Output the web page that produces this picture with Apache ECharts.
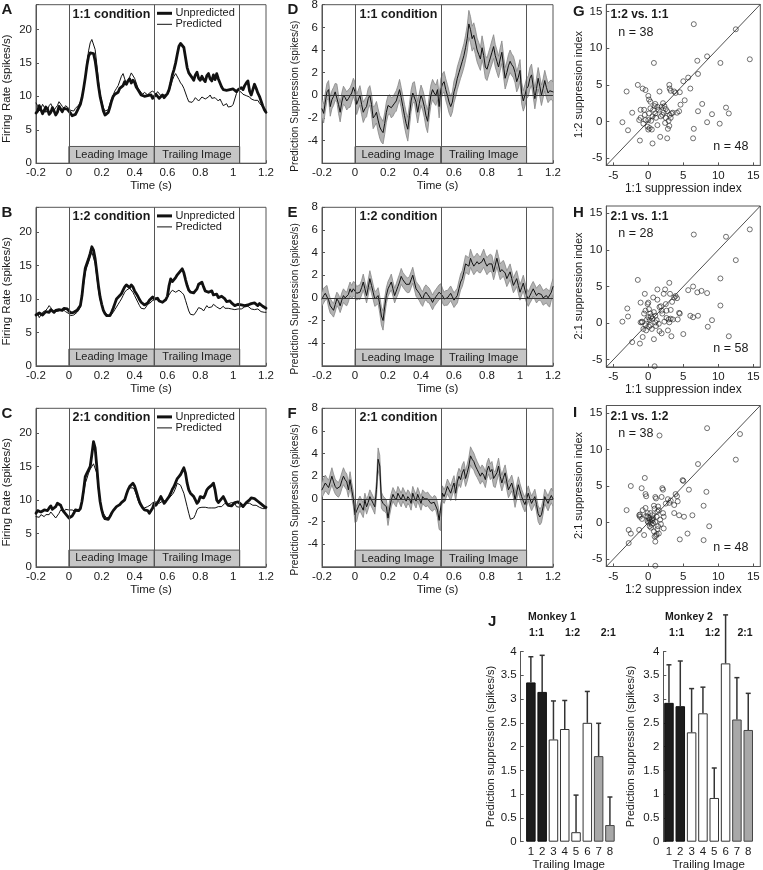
<!DOCTYPE html>
<html><head><meta charset="utf-8">
<script src="https://cdn.jsdelivr.net/npm/echarts@6/dist/echarts.min.js"></script>
<style>html,body{margin:0;padding:0;background:#fff}#c{width:763px;height:870px}</style>
</head><body><div id="c"></div>
<script>
// ---------------- DATA ----------------
const time = [-0.2,-0.19,-0.18,-0.17,-0.16,-0.15,-0.14,-0.13,-0.12,-0.11,-0.1,-0.09,-0.08,-0.07,-0.06,-0.05,-0.04,-0.03,-0.02,-0.01,0,0.01,0.02,0.03,0.04,0.05,0.06,0.07,0.08,0.09,0.1,0.11,0.12,0.13,0.14,0.15,0.16,0.17,0.18,0.19,0.2,0.21,0.22,0.23,0.24,0.25,0.26,0.27,0.28,0.29,0.3,0.31,0.32,0.33,0.34,0.35,0.36,0.37,0.38,0.39,0.4,0.41,0.42,0.43,0.44,0.45,0.46,0.47,0.48,0.49,0.5,0.51,0.52,0.53,0.54,0.55,0.56,0.57,0.58,0.59,0.6,0.61,0.62,0.63,0.64,0.65,0.66,0.67,0.68,0.69,0.7,0.71,0.72,0.73,0.74,0.75,0.76,0.77,0.78,0.79,0.8,0.81,0.82,0.83,0.84,0.85,0.86,0.87,0.88,0.89,0.9,0.91,0.92,0.93,0.94,0.95,0.96,0.97,0.98,0.99,1,1.01,1.02,1.03,1.04,1.05,1.06,1.07,1.08,1.09,1.1,1.11,1.12,1.13,1.14,1.15,1.16,1.17,1.18,1.19,1.2];
const timeTicks = [-0.2,0,0.2,0.4,0.6,0.8,1,1.2];
const events = [0, 0.52, 1.04];
const eventNames = ['Leading Image', 'Trailing Image'];

// A: 1:1 condition firing rate
const aUnpred = [7.5,7.8,8.6,8.0,7.4,7.6,8.4,8.1,7.3,7.6,
8.3,7.8,7.2,7.6,8.5,8.3,7.7,8.2,8.4,8.1,
8.0,7.5,7.1,7.0,7.3,7.8,8.3,8.8,9.8,11.2,
12.8,14.6,16.0,16.5,16.7,16.4,15.3,13.6,11.6,10.0,
8.9,7.8,7.2,7.1,7.6,8.4,9.3,10.0,10.3,10.1,
10.6,11.2,11.0,11.6,12.2,11.8,12.3,12.6,12.0,12.4,
12.1,11.4,11.0,10.6,10.2,10.4,10.0,9.8,10.1,9.9,
10.2,9.7,9.9,10.3,10.0,9.7,9.9,10.2,9.8,10.1,
10.4,11.0,12.0,13.2,14.0,15.0,16.3,17.5,17.9,17.8,
17.3,15.8,14.3,13.5,13.6,12.8,12.4,13.2,13.6,12.7,
12.4,13.0,12.5,12.2,13.1,13.4,12.6,12.3,13.2,12.5,
13.4,12.6,12.0,11.4,11.0,11.2,10.9,11.1,11.0,10.8,
11.1,10.9,10.7,11.0,10.8,11.3,11.0,11.6,12.0,12.3,
10.8,10.2,11.0,11.8,11.2,10.5,10.0,9.3,8.6,8.0,
7.6];
const aPred = [9.0,8.6,7.8,8.2,8.8,8.4,7.6,8.0,8.6,8.9,
8.4,7.9,8.3,8.6,9.2,9.0,8.5,8.2,8.6,8.4,
8.2,7.9,8.0,7.8,8.2,8.4,8.7,9.2,10.0,11.3,
13.0,15.0,16.8,18.0,18.5,18.3,17.0,14.8,12.3,10.5,
9.3,8.3,7.8,7.6,8.0,8.9,9.6,10.2,10.8,11.2,
11.6,12.3,13.0,13.4,12.6,11.9,12.1,12.9,13.5,13.3,
12.7,12.0,11.3,10.9,10.6,10.3,10.6,10.4,10.2,10.5,
10.4,10.8,10.6,10.3,10.7,10.5,10.1,9.9,10.2,10.0,
10.3,10.8,11.6,12.4,13.0,13.4,13.2,12.5,12.0,11.7,
11.2,10.5,9.8,9.2,9.0,9.1,9.4,9.8,9.6,9.3,
9.5,9.9,10.1,9.6,9.4,9.9,10.2,9.7,9.5,9.8,
9.6,9.3,9.6,9.1,8.6,8.5,8.9,8.4,8.2,8.5,
8.8,9.6,10.4,10.9,11.0,10.6,10.3,10.4,10.1,10.2,
9.9,9.6,9.8,9.4,9.2,9.4,9.0,8.7,8.4,8.2,
8.0];
// B: 1:2 condition
const bUnpred = [7.6,7.4,7.9,8.0,7.6,7.8,8.1,8.3,8.0,8.4,
8.2,8.0,8.3,8.1,8.4,8.5,8.3,8.6,8.8,8.5,
8.2,7.9,7.8,8.0,8.2,8.3,8.5,9.0,10.5,12.8,
14.6,15.3,16.0,16.8,17.8,17.3,16.0,14.0,12.0,10.3,
9.2,8.3,7.8,7.5,7.3,7.5,8.0,8.6,9.3,10.0,
10.2,10.5,10.8,11.3,11.8,12.1,12.0,11.7,12.1,11.8,
11.2,10.8,10.4,9.9,9.5,9.3,9.1,9.0,9.4,9.8,
10.0,10.3,10.0,9.8,10.1,9.7,9.8,9.5,9.6,9.9,
10.4,12.0,13.0,12.6,12.4,13.2,13.6,13.8,14.2,14.5,
13.9,12.9,12.0,11.3,11.0,10.8,10.9,11.1,11.5,12.2,
12.4,12.5,11.8,11.2,11.1,11.0,10.8,11.2,10.6,10.8,
10.7,10.2,10.0,10.4,10.5,10.0,9.6,9.5,9.7,9.4,
9.3,9.0,8.8,9.2,9.4,9.1,9.3,9.0,9.2,9.1,
9.0,9.3,9.1,9.4,9.2,9.0,9.3,9.1,8.9,8.8,
8.6];
const bPred = [7.5,7.8,7.2,7.4,8.0,7.9,8.3,8.6,9.0,8.7,
8.2,8.0,8.1,8.3,8.2,8.4,8.5,8.3,8.1,8.0,
7.8,7.5,7.4,7.6,7.8,8.0,8.3,8.8,10.2,12.2,
14.0,14.8,15.5,16.3,17.0,16.9,15.3,13.3,11.3,9.9,
9.0,8.4,8.0,7.7,7.5,7.4,7.6,8.0,8.4,8.8,
9.2,9.6,10.0,10.5,11.0,11.3,11.5,11.6,11.4,11.0,
10.5,10.0,9.5,9.0,8.6,8.4,8.5,8.8,9.2,9.4,
9.5,9.8,10.0,9.9,9.7,9.8,9.6,9.5,9.7,9.9,
10.1,10.6,11.0,11.3,11.2,11.0,11.1,11.3,11.2,10.9,
10.6,9.8,9.0,8.2,7.7,7.5,7.6,7.9,8.3,8.7,
8.9,8.5,8.2,8.6,9.0,8.7,8.5,8.8,9.2,9.0,
8.8,8.6,8.5,8.7,8.9,8.6,8.4,8.6,8.8,8.5,
8.3,8.4,8.6,8.5,8.3,8.5,8.7,8.8,8.6,8.9,
8.8,8.5,8.3,8.4,8.2,8.5,8.3,8.1,8.2,8.0,
8.0];
// C: 2:1 condition
const cUnpred = [8.0,8.4,8.6,8.2,8.3,8.5,8.7,8.4,8.8,9.1,
8.6,8.5,9.0,9.5,9.6,9.2,8.6,8.2,8.0,7.6,
7.3,7.5,7.6,8.0,8.5,8.6,8.4,8.7,9.8,11.5,
13.5,14.0,14.5,15.0,16.8,18.7,17.8,15.0,12.0,9.8,
8.5,7.6,7.2,7.0,7.1,7.5,8.0,8.4,8.7,9.0,
9.0,9.3,9.6,9.8,10.0,10.8,11.5,12.0,12.0,12.5,
12.1,11.3,10.5,9.7,9.2,8.8,8.5,8.6,8.4,8.0,
7.8,8.8,9.5,9.2,9.4,10.0,10.5,10.0,9.5,9.8,
10.0,10.5,11.0,11.6,12.0,12.6,13.2,13.5,13.8,14.3,
14.8,14.0,12.5,11.5,11.0,10.8,10.5,10.0,9.5,9.8,
10.5,10.4,10.3,10.8,11.5,11.8,12.0,12.2,12.5,11.5,
10.0,9.6,9.5,10.2,10.5,10.0,9.5,9.2,9.0,9.1,
9.2,9.6,9.8,9.7,9.5,9.3,9.0,9.2,9.6,9.8,
10.0,10.3,10.5,10.2,10.0,9.8,9.6,9.4,9.2,9.0,
8.9];
const cPred = [7.5,7.3,7.4,7.8,7.6,7.5,7.8,8.0,7.8,8.2,
8.0,7.6,7.3,7.5,8.0,8.5,8.3,8.2,8.6,8.8,
8.5,8.6,8.5,8.4,8.3,8.2,8.3,8.5,9.5,11.0,
12.5,13.2,14.0,14.6,15.0,15.4,15.5,14.0,11.5,9.8,
8.6,8.0,7.6,7.3,7.2,7.5,7.9,8.4,8.7,9.0,
9.2,9.4,9.5,9.8,10.2,10.8,11.5,11.8,12.0,11.8,
11.5,10.8,10.0,9.4,9.0,8.8,8.8,8.9,9.0,9.2,
9.3,9.6,9.8,9.7,9.5,9.5,9.6,9.8,9.7,9.9,
10.0,10.3,10.5,10.8,11.2,11.8,12.5,12.6,12.2,11.6,
11.0,10.0,9.0,8.0,7.1,7.0,7.3,7.8,8.5,8.8,
9.0,8.9,8.8,8.9,9.0,8.8,8.7,8.8,8.9,8.8,
8.9,9.0,9.1,9.0,9.2,9.5,9.6,9.4,9.5,9.6,
9.8,9.5,9.0,9.0,8.9,9.0,9.2,9.3,9.5,9.4,
9.5,9.3,9.2,9.3,9.2,9.0,8.9,8.8,8.7,8.8,
8.7];

// D/E/F: prediction suppression mean and SEM
const dMean = [-1.2,-1.6,-0.6,0.3,0.5,-1.0,-0.4,-0.1,0.3,0.2,
-0.8,-1.5,-0.6,0.0,-0.2,-0.5,-0.3,-0.2,0.2,0.7,
0.3,-0.8,-0.4,0.0,-0.8,-1.5,-1.2,-1.0,-0.3,0.0,
-0.8,-2.0,-1.8,-1.5,-2.2,-2.8,-3.1,-3.3,-2.5,-1.5,
-0.9,-0.8,-1.1,-1.0,-0.7,-0.5,0.0,0.5,-0.2,-1.0,
-1.8,-2.5,-3.0,-1.8,-0.5,0.2,0.3,-0.6,-1.5,-0.7,
0.0,-0.4,-1.0,-1.8,-2.3,-1.0,0.0,0.5,0.2,0.0,
0.5,-1.0,0.5,1.0,1.2,0.5,0.0,-0.6,-1.0,-0.6,
0.3,0.8,1.5,2.0,2.5,3.0,3.5,4.2,5.0,6.3,
5.8,5.0,5.3,4.7,4.0,3.6,3.2,4.2,3.5,2.5,
2.3,2.8,3.3,3.8,4.3,3.5,3.0,2.5,3.2,3.8,
2.6,1.5,2.0,2.6,3.0,2.7,2.5,2.0,1.2,1.6,
2.2,0.2,-0.5,0.0,0.6,0.8,1.5,1.8,0.8,-0.3,
0.6,1.5,0.8,0.0,0.6,1.3,0.7,0.2,0.4,0.5,
0.3];
const dSem = [0.8,0.85,0.8,0.75,0.8,0.85,0.8,0.8,0.75,0.8,
0.8,0.85,0.8,0.8,0.75,0.8,0.8,0.85,0.8,0.8,
0.85,0.9,0.85,0.85,0.9,0.9,0.85,0.9,0.9,0.85,
0.9,0.95,0.9,0.95,1.0,1.0,1.05,1.0,0.95,0.9,
0.85,0.85,0.9,0.85,0.85,0.9,0.85,0.9,0.9,0.95,
1.0,1.0,1.05,1.0,0.95,0.9,0.9,0.95,0.95,0.9,
0.9,0.9,0.95,1.0,1.0,0.95,0.9,0.9,0.9,0.9,
0.9,1.0,0.95,0.9,0.9,0.95,0.95,0.95,0.9,0.9,
0.95,0.95,1.0,1.0,1.0,1.05,1.05,1.1,1.15,1.2,
1.15,1.1,1.1,1.1,1.05,1.05,1.0,1.05,1.0,1.0,
1.0,1.0,1.0,1.05,1.05,1.0,1.0,0.95,1.0,1.0,
0.95,0.95,0.95,1.0,1.0,0.95,0.95,0.9,0.9,0.95,
0.95,0.95,0.9,0.95,0.9,0.9,0.95,0.95,0.9,0.9,
0.9,0.95,0.9,0.9,0.85,0.9,0.9,0.85,0.85,0.85,
0.85];
const eMean = [-0.1,0.2,0.4,0.5,-0.2,-0.7,-0.9,-1.1,-0.6,-0.1,
-0.3,-0.7,-0.2,0.2,0.0,-0.1,0.3,0.8,0.5,0.8,
0.7,0.4,0.5,0.5,0.9,1.4,0.8,0.2,0.9,1.7,
1.1,0.5,-0.1,0.0,0.2,-0.6,-1.6,-2.0,-0.8,0.2,
0.8,1.1,1.4,0.8,0.2,0.6,1.0,1.4,1.9,1.6,
1.4,1.2,1.1,1.2,1.6,2.0,1.4,0.8,0.6,0.4,
0.1,-0.1,0.3,0.5,0.3,0.2,-0.1,-0.4,-0.1,0.1,
0.3,0.5,0.6,0.2,-0.1,0.0,0.0,0.2,0.4,0.1,
-0.2,0.0,0.2,0.8,1.4,1.7,2.3,3.0,2.9,2.8,
3.5,3.1,2.8,3.0,3.2,3.0,2.9,3.2,3.5,3.1,
2.8,3.0,3.1,3.0,2.3,2.9,3.5,2.9,2.3,2.5,
2.6,2.2,1.7,2.0,2.3,1.7,1.1,1.4,1.7,1.1,
0.5,0.9,1.3,0.7,0.2,-0.1,0.2,0.5,0.8,0.5,
0.2,0.4,0.5,0.3,0.0,0.1,0.2,0.0,-0.1,0.5,
1.0];
const eSem = [0.6,0.65,0.6,0.6,0.65,0.65,0.6,0.6,0.65,0.6,
0.6,0.6,0.65,0.6,0.6,0.6,0.65,0.6,0.6,0.65,
0.65,0.6,0.6,0.65,0.65,0.7,0.65,0.65,0.7,0.7,
0.7,0.65,0.65,0.65,0.7,0.75,0.8,0.85,0.8,0.7,
0.65,0.65,0.7,0.65,0.65,0.65,0.7,0.7,0.7,0.65,
0.65,0.65,0.65,0.7,0.7,0.7,0.65,0.65,0.65,0.65,
0.65,0.65,0.65,0.65,0.7,0.65,0.65,0.65,0.65,0.65,
0.65,0.65,0.65,0.65,0.6,0.65,0.65,0.65,0.65,0.65,
0.65,0.65,0.65,0.7,0.7,0.7,0.75,0.75,0.75,0.75,
0.8,0.75,0.75,0.75,0.75,0.75,0.7,0.75,0.8,0.75,
0.75,0.75,0.75,0.75,0.7,0.75,0.75,0.75,0.7,0.7,
0.7,0.7,0.7,0.7,0.7,0.7,0.65,0.7,0.7,0.7,
0.7,0.65,0.7,0.7,0.65,0.65,0.65,0.7,0.65,0.65,
0.65,0.65,0.7,0.65,0.65,0.65,0.65,0.7,0.7,0.7,
0.7];
const fMean = [0.8,1.1,1.4,1.2,1.0,1.5,2.0,1.5,1.1,0.9,
0.8,1.1,1.6,2.0,1.7,1.5,0.8,1.7,0.8,0.0,
-1.4,-1.3,-0.7,-0.4,-0.7,-1.0,-0.1,-0.7,-0.3,0.2,
-0.1,-0.4,-0.7,0.8,3.5,2.9,-0.1,-0.4,-0.5,-0.7,
-1.7,-0.8,-0.1,0.4,0.1,-0.1,0.5,0.2,-0.1,0.4,
0.1,-0.2,0.2,0.0,-0.4,0.5,0.1,-0.2,0.4,0.0,
-0.4,0.2,0.0,-0.1,0.0,-0.2,-0.4,-0.5,-0.3,-0.4,
-1.0,-1.9,-2.0,0.5,0.2,0.6,1.1,0.8,0.5,1.0,
1.4,0.5,1.5,2.0,1.7,2.3,2.6,1.8,2.3,2.9,
3.8,3.5,3.3,2.9,2.6,2.3,2.0,2.3,2.1,1.7,
2.5,2.9,2.4,2.6,1.8,1.7,2.3,2.9,2.0,1.4,
1.9,2.3,1.5,0.8,1.1,1.4,0.8,-0.1,0.6,1.25,
0.7,0.2,-0.2,-0.5,0.0,0.5,0.0,-0.4,-0.1,0.2,
-0.5,-1.3,-1.6,-1.4,-0.7,0.2,-0.1,-0.4,0.0,0.3,
0.0];
const fSem = [0.65,0.7,0.7,0.65,0.65,0.7,0.75,0.7,0.65,0.65,
0.65,0.7,0.7,0.75,0.7,0.7,0.65,0.7,0.65,0.65,
0.7,0.7,0.65,0.65,0.65,0.65,0.6,0.65,0.6,0.6,
0.6,0.6,0.65,0.75,1.0,0.95,0.7,0.65,0.6,0.6,
0.65,0.65,0.6,0.6,0.6,0.6,0.6,0.6,0.6,0.6,
0.6,0.6,0.6,0.6,0.6,0.6,0.6,0.6,0.6,0.6,
0.6,0.6,0.6,0.6,0.6,0.6,0.6,0.6,0.6,0.6,
0.65,0.8,0.8,0.65,0.6,0.6,0.65,0.65,0.65,0.65,
0.65,0.65,0.7,0.7,0.7,0.7,0.7,0.7,0.75,0.75,
0.8,0.8,0.75,0.75,0.7,0.7,0.7,0.7,0.7,0.7,
0.7,0.7,0.7,0.7,0.7,0.7,0.7,0.7,0.7,0.7,
0.7,0.7,0.7,0.7,0.7,0.7,0.7,0.65,0.65,0.7,
0.65,0.65,0.65,0.65,0.65,0.65,0.65,0.65,0.65,0.65,
0.65,0.7,0.7,0.7,0.65,0.65,0.65,0.65,0.65,0.65,
0.65];

// G/H/I: suppression index scatter
const indexTicks = [-5,0,5,10,15];
const diagonal = [-6, 16];
const gPoints = [[-3.1,4.1],[-3.7,-0.1],[-2.9,-1.2],[-2.3,1.2],[-1.5,5],[-1.1,1.6],[-1.1,0.5],[-1.2,-2.6],[-0.8,4.5],[-0.4,4.3],[0,3.5],[0.1,3],[-0.5,0.9],[-0.4,0.2],[-0.7,-0.3],[0,0.2],[0.1,1.1],[0.3,1.8],[0.6,0.7],[0.2,-0.9],[0,-1.1],[0.5,-1.1],[0.7,1.6],[0.8,8],[0.9,2.1],[1,1.1],[1.1,0.5],[1.3,-0.5],[1.5,1.6],[1.6,4.1],[1.8,0.7],[1.9,2],[2,0.9],[2.1,2.5],[2.3,2.1],[2.5,1.7],[1.7,-2.1],[2.4,-0.2],[2.5,0.5],[2.7,1.4],[2.8,-1],[3,5],[3.05,4.5],[3.2,4.2],[2.7,-2.3],[0.6,-3],[2.9,0.1],[3,-0.6],[3.05,0.9],[3.2,0.5],[3.3,1.1],[3.5,1.2],[3.7,4.1],[3.9,3.9],[4.1,1.2],[4.4,1.4],[4.5,4],[4.6,2.3],[5,5.5],[5.2,2.9],[5.7,6],[6,4.5],[6.4,-2.3],[6.5,13.3],[6.5,-1],[7,8.3],[7.1,6.5],[7.1,1.4],[7.7,2.4],[8.4,8.9],[8.4,-0.1],[9.1,1],[10.3,8],[10.2,-0.3],[11.1,1.9],[11.5,1.1],[12.5,12.6],[14.5,8.5],[-0.6,1.6],[0.3,2.7],[-1.3,0.2],[-0.1,-0.7],[1.3,2],[1,2.4],[0.4,0.1],[2.2,1.2]];
const hPoints = [[-3.7,0.2],[-3,2],[-2.9,0.9],[-2.3,-2.6],[-1.5,5.9],[-1.1,2.8],[-1.1,0.1],[-0.9,0.2],[-1.2,-2.8],[-0.8,-1.9],[-0.5,4],[-0.4,1.7],[-0.4,-0.3],[-0.3,-1],[-0.1,2.6],[0,2.8],[0,0.8],[0.1,1.9],[0.2,0.4],[0.3,-0.3],[0.5,-0.8],[0.6,0.6],[0.7,3.5],[0.8,-2.2],[0.9,-5.9],[1,1],[1.2,0.4],[1.3,4.6],[1.3,3.2],[1.5,-0.1],[1.6,-1.1],[1.8,2.3],[1.9,1.7],[1.9,-1.4],[2.2,4],[2.4,4.6],[2.5,2.6],[2.6,1.7],[2.6,0.7],[2.8,-1],[2.9,0.5],[3,5.5],[3,0.1],[3.1,4],[3.2,1.8],[3.2,0.6],[3.3,-1.8],[3.5,0.5],[3.7,3.5],[3.9,3.7],[4.1,3.4],[4.2,0.5],[4.4,1.4],[4.5,1.3],[5,-1.5],[5.7,4.5],[6,1],[6.4,5],[6.4,0.8],[6.5,12.1],[7,4.2],[7.1,1],[7.6,4.4],[8.4,4.1],[8.5,-0.5],[9.1,0.4],[10.3,2.4],[10.3,6.1],[11.1,11.8],[11.5,-1.8],[12.5,8.6],[14.5,12.8],[-0.9,0.1],[-0.6,1.3],[0.3,1.3],[1,0.1],[2,1.3],[0.1,-0.5],[-0.2,0.5],[1.6,2.2],[0.8,1.5],[-0.7,-0.8],[2.3,0.2],[1.1,-0.4],[3.4,2.9],[0.4,0.9]];
const iPoints = [[-3.1,1.7],[-2.8,-1],[-2.5,-1.5],[-2.8,-2.8],[-2.5,5],[-1.3,1],[-1.2,0.8],[-1.3,-1],[-0.95,4.7],[-0.6,-1.7],[-0.5,6.1],[-0.4,3.9],[-0.3,3.6],[-0.8,1.7],[-0.4,2],[-0.1,0.8],[-0.1,0.2],[0,0],[0.1,0.6],[0.2,-0.5],[0.3,0.1],[0.5,0.5],[0.6,1],[0.7,-0.1],[0.8,-1.2],[0.8,2.3],[0.9,-1.9],[1,-2.6],[1,3.5],[1,-5.9],[1.1,3.3],[1.2,0.8],[1.3,1.5],[1.4,-0.5],[1.5,-1.5],[1.6,11.9],[1.7,0.4],[1.9,3.5],[2,4.7],[2.1,4.5],[2.1,1.3],[2.2,0.8],[3,2.7],[3.2,3],[3.7,2.4],[3.7,1.3],[3.9,3.9],[4.1,3.6],[4.2,2.9],[4.4,1],[4.5,-2.3],[5,5.7],[5.1,0.8],[5.6,-1.5],[5.8,4.5],[6.3,1],[7.1,8],[7.9,2.3],[7.9,-2.4],[8.3,4.2],[8.4,12.9],[8.7,-0.5],[12.5,8.6],[13.1,12.1],[-0.1,1.3],[0.3,1.3],[1,0.1],[1.5,1.7],[0.5,-0.3],[2.5,2.6],[-1.2,1.1],[-0.9,0.5],[0.2,0.4],[0.6,0.3],[1.1,-1.8],[1.2,-1.6],[1.3,-0.9],[0.4,-0.7],[1.8,-0.2],[2.2,-0.8],[0.9,1.9],[-0.3,0.9],[1.4,2.2],[2.8,3.2],[4.9,5.8],[0.7,0.6]];

// J: bar chart
const trailingImages = [1,2,3,4,5,6,7,8];
const imageGroups = ['1:1','1:1','1:2','1:2','1:2','1:2','2:1','2:1'];
const monkey1Mean = [3.35,3.15,2.15,2.37,0.2,2.5,1.8,0.35];
const monkey1Err  = [0.54,0.77,0.81,0.6,0.78,0.66,0.69,0.59];
const monkey2Mean = [2.92,2.85,2.3,2.7,0.92,3.75,2.57,2.35];
const monkey2Err  = [0.8,0.95,0.92,0.55,0.63,1.02,0.88,0.77];

// ---------------- BUILD ----------------
const FONT = '"Liberation Sans", Arial, Helvetica, sans-serif';
const TXT = '#1a1a1a';
const AX = '#555';
const groupFill = {'1:1':'#1c1c1c','1:2':'#ffffff','2:1':'#a8a8a8'};
const groupBorder = {'1:1':'#111','1:2':'#333','2:1':'#444'};

const grids=[], xAxes=[], yAxes=[], series=[], graphics=[];
function addGrid(l,t,w,h,box){
  grids.push({left:l, top:t, width:w, height:h, show:!!box, borderColor:AX, borderWidth:1,
    backgroundColor:'rgba(0,0,0,0)', containLabel:false, outerBoundsMode:'none'});
  return grids.length-1;
}
const nameStyle = (s)=>({fontSize:s, color:TXT, fontFamily:FONT});
function baseAxis(gi, o){
  return Object.assign({type:'value', gridIndex:gi,
    axisLine:{show:true, onZero:false, lineStyle:{color:AX, width:1}},
    axisTick:{show:true, inside:true, length:3, lineStyle:{color:AX}},
    axisLabel:{fontSize:11.5, color:TXT, fontFamily:FONT, margin:4},
    splitLine:{show:false}, nameLocation:'middle', nameTextStyle:nameStyle(11.5)}, o);
}
function timeAxis(gi){
  return baseAxis(gi,{min:-0.2, max:1.2, interval:0.2, name:'Time (s)', nameGap:17,
    axisLabel:{fontSize:11.5, color:TXT, fontFamily:FONT, margin:4, customValues:timeTicks},
    axisTick:{show:true, inside:true, length:3, lineStyle:{color:AX}, customValues:timeTicks}});
}
const zip = (xs, ys) => xs.map((x,i)=>[x, ys[i]]);
function lineSeries(gi, ys, w, z){
  return {type:'line', xAxisIndex:gi, yAxisIndex:gi, data:zip(time, ys), symbol:'none', showSymbol:false,
    silent:true, z:z, lineStyle:{color:'#111', width:w, cap:'round', join:'round'}};
}
function eventMarks(y0, y1, withZero){
  const lines = events.map(e=>({xAxis:e}));
  if (withZero) lines.push({yAxis:0, lineStyle:{color:'#333', width:1}});
  return {
    markLine:{silent:true, symbol:['none','none'], label:{show:false}, animation:false,
      lineStyle:{color:AX, width:1, type:'solid'}, emphasis:{disabled:true}, data:lines},
    markArea:{silent:true, animation:false, itemStyle:{color:'#c6c6c6', borderColor:AX, borderWidth:1},
      label:{show:true, position:'inside', color:'#222', fontSize:11, fontFamily:FONT},
      emphasis:{disabled:true},
      data:[[{name:eventNames[0], xAxis:events[0], yAxis:y0},{xAxis:events[1], yAxis:y1}],
            [{name:eventNames[1], xAxis:events[1], yAxis:y0},{xAxis:events[2], yAxis:y1}]]}
  };
}
function txt(x,y,s,size,bold,align,rot){
  graphics.push({type:'text', x:x, y:y, rotation:rot||0, silent:true, z:100,
    style:{text:s, fill:TXT, font:(bold?'bold ':'')+size+'px '+FONT,
      align:align||'left', verticalAlign:'middle', textAlign:align||'left', textVerticalAlign:'middle'}});
}
function vtxt(x,y,s,size){ txt(x,y,s,size,false,'center',Math.PI/2); }
function seg(x1,y1,x2,y2,w){
  graphics.push({type:'line', silent:true, z:100, shape:{x1,y1,x2,y2}, style:{stroke:'#111', lineWidth:w}});
}

// Firing-rate panels
function frPanel(top, unpred, pred, letter, cond){
  const gi = addGrid(36, top, 230, 158.5, true);
  xAxes.push(timeAxis(gi));
  yAxes.push(baseAxis(gi,{min:0, max:23.7, interval:5,
    axisLabel:{fontSize:11.5, color:TXT, fontFamily:FONT, margin:4, formatter:v=>(v%5===0?String(v):'')}}));
  series.push(lineSeries(gi, pred, 1, 3));
  series.push(Object.assign(lineSeries(gi, unpred, 2.8, 4), eventMarks(0, 2.5, false)));
  txt(1.5, top+5.5, letter, 15, true);
  txt(72.5, top+9.7, cond, 12.5, true);
  vtxt(6.5, top+84, 'Firing Rate (spikes/s)', 11.5);
  seg(157, top+8.6, 172, top+8.6, 3); txt(175.5, top+8.6, 'Unpredicted', 11);
  seg(157, top+19.6, 172, top+19.6, 1); txt(175.5, top+19.6, 'Predicted', 11);
}
// Prediction-suppression panels (mean line with SEM band)
function psPanel(top, mean, sem, letter, cond){
  const gi = addGrid(322, top, 231, 158.5, true);
  xAxes.push(timeAxis(gi));
  yAxes.push(baseAxis(gi,{min:-6, max:8, interval:2,
    axisLabel:{fontSize:11.5, color:TXT, fontFamily:FONT, margin:4, formatter:v=>(v===-6?'':String(v))}}));
  const lower = mean.map((m,i)=>m-sem[i]);
  const upper = mean.map((m,i)=>m+sem[i]);
  series.push({type:'custom', xAxisIndex:gi, yAxisIndex:gi, silent:true, z:2, clip:true,
    data:time.map((t,i)=>[t, lower[i], upper[i]]), encode:{x:0, y:[1,2]},
    renderItem:(p, api)=>{
      if (p.dataIndex !== 0) return null;
      const up = time.map((t,i)=>api.coord([t, upper[i]]));
      const lo = time.map((t,i)=>api.coord([t, lower[i]]));
      return {type:'group', children:[
        {type:'polygon', shape:{points:up.concat(lo.slice().reverse())}, style:{fill:'#b3b3b3'}},
        {type:'polyline', shape:{points:up}, style:{stroke:'#858585', lineWidth:0.8, fill:null}},
        {type:'polyline', shape:{points:lo}, style:{stroke:'#858585', lineWidth:0.8, fill:null}}]};
    }});
  series.push(Object.assign(lineSeries(gi, mean, 1, 4), eventMarks(-6, -4.53, true)));
  txt(287.5, top+5.5, letter, 15, true);
  txt(359.5, top+9.7, cond, 12.5, true);
  vtxt(295, top+91.5, 'Prediction Suppression (spikes/s)', 10.2);
}
// Scatter panels
function scPanel(top, pts, letter, title, nTop, nBot, xName, yName){
  const gi = addGrid(606.3, top, 154, 161, true);
  const common = {min:-6, max:16,
    axisLabel:{fontSize:11.5, color:TXT, fontFamily:FONT, margin:4, customValues:indexTicks},
    axisTick:{show:true, inside:true, length:3, lineStyle:{color:AX}, customValues:indexTicks},
    nameTextStyle:nameStyle(12)};
  xAxes.push(baseAxis(gi, Object.assign({}, common, {name:xName, nameGap:15})));
  yAxes.push(baseAxis(gi, Object.assign({}, common)));
  series.push({type:'line', xAxisIndex:gi, yAxisIndex:gi, data:zip(diagonal, diagonal), symbol:'none', silent:true,
    z:2, lineStyle:{color:'#222', width:0.8}});
  series.push({type:'scatter', xAxisIndex:gi, yAxisIndex:gi, data:pts, symbol:'circle', symbolSize:5, silent:true, z:3,
    itemStyle:{color:'rgba(255,255,255,0)', borderColor:'#222', borderWidth:0.8}});
  txt(573, top+7, letter, 15, true);
  txt(610.5, top+10.7, title, 12, true);
  txt(618.3, top+28, nTop, 12.5);
  txt(713.3, top+142.5, nBot, 12.5);
  vtxt(578.5, top+80, yName, 11);
}
// Bar panels
function barPanel(left, width, xmin, xmax, means, errs, nameGap){
  const gi = addGrid(left, 651.5, width, 190.2, false);
  xAxes.push(baseAxis(gi,{min:xmin, max:xmax, name:'Trailing Image', nameGap:15,
    axisLine:{show:false}, axisTick:{show:false},
    axisLabel:{fontSize:11.5, color:TXT, fontFamily:FONT, margin:4, customValues:trailingImages}}));
  yAxes.push(baseAxis(gi,{min:0, max:4, interval:0.5, name:'Prediction suppression (spikes/s)', nameGap:nameGap,
    nameTextStyle:nameStyle(11)}));
  series.push({type:'bar', xAxisIndex:gi, yAxisIndex:gi, barWidth:9.5, silent:true, z:2,
    data:trailingImages.map((x,i)=>({value:[x, means[i]],
      itemStyle:{color:groupFill[imageGroups[i]], borderColor:groupBorder[imageGroups[i]], borderWidth:1}}))});
  series.push({type:'custom', xAxisIndex:gi, yAxisIndex:gi, silent:true, z:3, clip:false,
    data:trailingImages.map((x,i)=>[x, means[i], errs[i]]), encode:{x:0, y:1},
    renderItem:(p, api)=>{
      const x=api.value(0), y=api.value(1), e=api.value(2);
      const a=api.coord([x,y]), b=api.coord([x,y+e]);
      const st={stroke:'#333', lineWidth:1.5};
      return {type:'group', children:[
        {type:'line', shape:{x1:a[0],y1:a[1],x2:b[0],y2:b[1]}, style:st},
        {type:'line', shape:{x1:b[0]-2.5,y1:b[1],x2:b[0]+2.5,y2:b[1]}, style:st}]};
    }});
}

frPanel(4.7, aUnpred, aPred, 'A', '1:1 condition');
frPanel(207.3, bUnpred, bPred, 'B', '1:2 condition');
frPanel(408.3, cUnpred, cPred, 'C', '2:1 condition');
psPanel(4.7, dMean, dSem, 'D', '1:1 condition');
psPanel(207.3, eMean, eSem, 'E', '1:2 condition');
psPanel(408.3, fMean, fSem, 'F', '2:1 condition');
scPanel(4.4, gPoints, 'G', '1:2 vs. 1:1', 'n = 38', 'n = 48', '1:1 suppression index', '1:2 suppression index');
scPanel(206, hPoints, 'H', '2:1 vs. 1:1', 'n = 28', 'n = 58', '1:1 suppression index', '2:1 suppression index');
scPanel(405.5, iPoints, 'I', '2:1 vs. 1:2', 'n = 38', 'n = 48', '1:2 suppression index', '2:1 suppression index');
barPanel(520.7, 96, 0.1, 8.6, monkey1Mean, monkey1Err, 23);
barPanel(663.3, 90.6, 0.5, 8.5, monkey2Mean, monkey2Err, 27);

txt(488, 622, 'J', 15, true);
txt(528, 616.7, 'Monkey 1', 10.5, true);
txt(665, 616.7, 'Monkey 2', 10.5, true);
[[536.5,'1:1'],[572.5,'1:2'],[608.3,'2:1'],[676.7,'1:1'],[712.5,'1:2'],[745,'2:1']].forEach(([x,s])=>txt(x,633.3,s,10.5,true,'center'));

const chart = echarts.init(document.getElementById('c'), null, {renderer:'canvas'});
chart.setOption({
  animation:false, backgroundColor:'#ffffff',
  textStyle:{fontFamily:FONT},
  grid:grids, xAxis:xAxes, yAxis:yAxes, series:series,
  graphic:{elements:graphics}
});
</script></body></html>
